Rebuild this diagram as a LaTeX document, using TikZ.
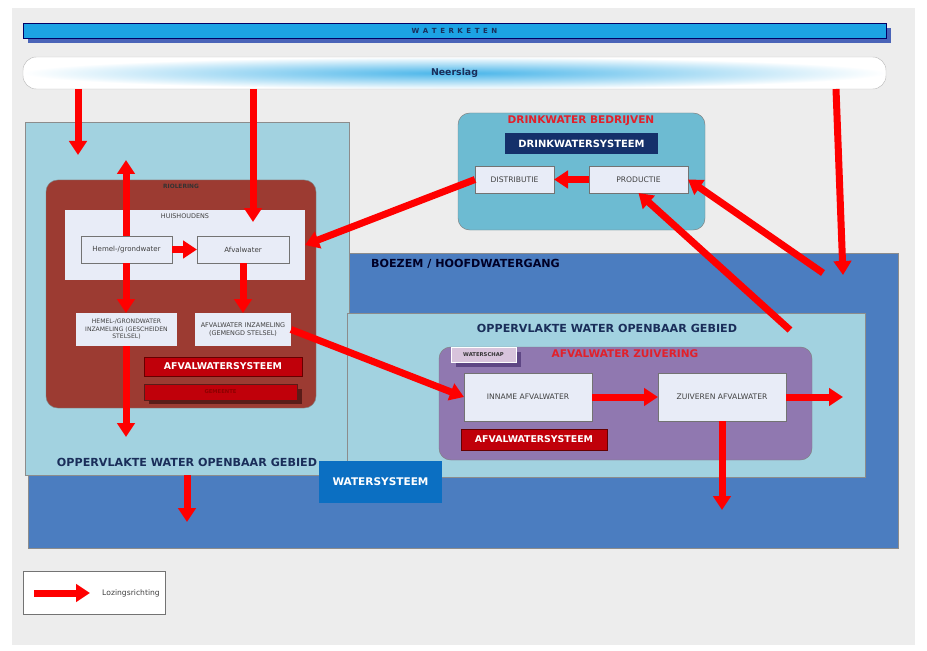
\documentclass[tikz,border=0pt]{standalone}
\usepackage{fontspec}
\setmainfont{DejaVu Sans}
\usetikzlibrary{arrows.meta,positioning}

\definecolor{pagegray}{HTML}{EDEDED}
\definecolor{ketenblue}{HTML}{1CA3E4}
\definecolor{ketenshadow}{HTML}{4A64B8}
\definecolor{opplight}{HTML}{A2D2E0}
\definecolor{boezemblue}{HTML}{4B7DC0}
\definecolor{wsblue}{HTML}{0B6FC2}
\definecolor{zuivpurple}{HTML}{9078B0}
\definecolor{schaplight}{HTML}{D8C4DC}
\definecolor{schapdark}{HTML}{5E4684}
\definecolor{boxlight}{HTML}{E8ECF7}
\definecolor{sysred}{HTML}{C0000A}
\definecolor{drinkteal}{HTML}{6DBBD2}
\definecolor{drinknavy}{HTML}{14306A}
\definecolor{rioolbrown}{HTML}{9C3B32}
\definecolor{gemshadow}{HTML}{5A1C18}
\definecolor{titlered}{HTML}{E2202A}
\definecolor{navytext}{HTML}{1A2E5A}

\begin{document}
\begin{tikzpicture}[x=0.3mm, y=-0.3mm,
  every node/.style={outer sep=0pt, inner sep=1pt},
  area/.style={anchor=north west, draw=black!45, line width=0.4pt},
  box/.style={anchor=north west, fill=boxlight, draw=black!55, line width=0.4pt, align=center, font=\fontsize{6}{7}\selectfont, text=black!75},
  sysbox/.style={anchor=north west, fill=sysred, draw=red!40!black, line width=0.4pt, text=white, font=\bfseries\fontsize{8}{9}\selectfont},
  lbl/.style={font=\bfseries\fontsize{9.5}{11}\selectfont, text=navytext},
  flow/.style={draw=red, line width=2.1mm, -{Triangle[width=5.2mm,length=4.2mm]}}]
\useasboundingbox (0,0) rectangle (927,651);
\fill[white] (0,0) rectangle (927,651);
\fill[pagegray] (12,8) rectangle (915,645);

% waterketen en neerslag
\fill[ketenshadow] (28,28) rectangle (891,43);
\node[area, fill=ketenblue, draw=blue!40!black, minimum width=863*0.3mm, minimum height=15*0.3mm, text=navytext, font=\bfseries\fontsize{6}{7}\selectfont] (keten) at (23,23) {W\,\,\,A\,\,\,T\,\,\,E\,\,\,R\,\,\,K\,\,\,E\,\,\,T\,\,\,E\,\,\,N};
\node[area, draw=black!25, rounded corners=4mm, inner color=ketenblue!80, outer color=white, minimum width=863*0.3mm, minimum height=32*0.3mm, font=\bfseries\fontsize{8}{9}\selectfont, text=navytext] (neerslag) at (23,57) {Neerslag};

% watersysteem
\node[area, fill=boezemblue, minimum width=870*0.3mm, minimum height=295*0.3mm] (boezem) at (28,253) {};
\node[lbl, anchor=west, text=black!85!blue] (boezemtxt) at (370,264) {BOEZEM / HOOFDWATERGANG};
\node[area, fill=opplight, minimum width=324*0.3mm, minimum height=353*0.3mm] (oppL) at (25,122) {};
\node[lbl] (oppLtxt) at (187,462) {OPPERVLAKTE WATER OPENBAAR GEBIED};
\node[area, fill=opplight, minimum width=518*0.3mm, minimum height=164*0.3mm] (oppR) at (347,313) {};
\node[lbl] (oppRtxt) at (607,328) {OPPERVLAKTE WATER OPENBAAR GEBIED};
\node[area, fill=wsblue, draw=none, minimum width=123*0.3mm, minimum height=42*0.3mm, text=white, font=\bfseries\fontsize{9}{10}\selectfont] (watersys) at (319,461) {WATERSYSTEEM};

% afvalwater zuivering
\node[area, fill=zuivpurple, draw=black!50, rounded corners=3.5mm, minimum width=373*0.3mm, minimum height=113*0.3mm] (zuivering) at (439,347) {};
\node[font=\bfseries\fontsize{9}{10}\selectfont, text=titlered] (zuivtxt) at (625,354) {AFVALWATER ZUIVERING};
\fill[schapdark] (456,352) rectangle (521,367);
\node[area, fill=schaplight, draw=white, minimum width=65*0.3mm, minimum height=15*0.3mm, font=\bfseries\fontsize{4.5}{5}\selectfont, text=black!80] (waterschap) at (451,347) {WATERSCHAP};
\node[box, minimum width=128*0.3mm, minimum height=48*0.3mm, font=\fontsize{6.5}{7}\selectfont] (inname) at (464,373) {INNAME AFVALWATER};
\node[box, minimum width=128*0.3mm, minimum height=48*0.3mm, font=\fontsize{6.5}{7}\selectfont] (zuiveren) at (658,373) {ZUIVEREN AFVALWATER};
\node[sysbox, minimum width=146*0.3mm, minimum height=21*0.3mm] (afvsysB) at (461,429) {AFVALWATERSYSTEEM};

% drinkwater
\node[area, fill=drinkteal, draw=black!50, rounded corners=3.5mm, minimum width=247*0.3mm, minimum height=117*0.3mm] (drinkwater) at (458,113) {};
\node[font=\bfseries\fontsize{9}{10}\selectfont, text=titlered] (drinktxt) at (581,121) {DRINKWATER BEDRIJVEN};
\node[area, fill=drinknavy, draw=none, minimum width=153*0.3mm, minimum height=21*0.3mm, text=white, font=\bfseries\fontsize{8.5}{9}\selectfont] (drinksys) at (505,133) {DRINKWATERSYSTEEM};
\node[box, minimum width=79*0.3mm, minimum height=27*0.3mm, font=\fontsize{6.5}{7}\selectfont] (distributie) at (475,166) {DISTRIBUTIE};
\node[box, minimum width=99*0.3mm, minimum height=27*0.3mm, font=\fontsize{6.5}{7}\selectfont] (productie) at (589,166) {PRODUCTIE};

% riolering
\node[area, fill=rioolbrown, draw=black!50, rounded corners=3.5mm, minimum width=270*0.3mm, minimum height=228*0.3mm] (riolering) at (46,180) {};
\node[font=\bfseries\fontsize{5}{5}\selectfont, text=black!80] (rioltxt) at (181,186) {RIOLERING};
\node[box, draw=none, minimum width=240*0.3mm, minimum height=70*0.3mm] (huishoudens) at (65,210) {};
\node[font=\fontsize{5.5}{6}\selectfont, text=black!75] (huistxt) at (185,216) {HUISHOUDENS};
\node[box, minimum width=91*0.3mm, minimum height=27*0.3mm] (hemel) at (81,236) {Hemel-/grondwater};
\node[box, minimum width=92*0.3mm, minimum height=27*0.3mm] (afvalwater) at (197,236) {Afvalwater};
\node[box, draw=none, minimum width=101*0.3mm, minimum height=33*0.3mm, font=\fontsize{5.2}{6.3}\selectfont] (hemelinz) at (76,313) {HEMEL-/GRONDWATER\\INZAMELING (GESCHEIDEN\\STELSEL)};
\node[box, draw=none, minimum width=96*0.3mm, minimum height=33*0.3mm, font=\fontsize{5.5}{6.8}\selectfont] (afvinz) at (195,313) {AFVALWATER INZAMELING\\(GEMENGD STELSEL)};
\node[sysbox, minimum width=158*0.3mm, minimum height=19*0.3mm] (afvsysA) at (144,357) {AFVALWATERSYSTEEM};
\fill[gemshadow] (149,389) rectangle (302,404);
\node[sysbox, draw=gemshadow, minimum width=153*0.3mm, minimum height=16*0.3mm, text=red!55!black, font=\bfseries\fontsize{4.5}{5}\selectfont] (gemeente) at (144,384) {GEMEENTE};

% legenda
\node[area, fill=white, draw=black!55, minimum width=142*0.3mm, minimum height=43*0.3mm] (legenda) at (23,571) {};
\node[font=\fontsize{6.5}{7}\selectfont, text=black!75] (loz) at (131,593) {Lozingsrichting};

% lozingen
\coordinate (r1) at (78,155);
\coordinate (r2) at (253,222);
\coordinate (r3) at (843,275);
\coordinate (r4) at (126,160);
\coordinate (r5) at (126,437);
\coordinate (r6) at (187,522);
\coordinate (r7) at (823,273);
\coordinate (r8) at (790,330);
\coordinate (r9) at (843,397);
\coordinate (r10) at (722,510);
\coordinate (l1) at (34,593);
\coordinate (l2) at (90,593);
\draw[flow] (neerslag.south -| r1) -- (r1);
\draw[flow] (neerslag.south -| r2) -- (r2);
\draw[flow] (neerslag.south -| 836,0) -- (r3);
\draw[flow] (hemel.north -| r4) -- (r4);
\draw[flow] (hemel.south -| r4) -- (hemelinz.north -| r4);
\draw[flow] (hemel.east) -- (afvalwater.west);
\draw[flow] (afvalwater.south) -- (afvinz.north);
\draw[flow] (hemelinz.south -| r5) -- (r5);
\draw[flow] (oppL.south -| r6) -- (r6);
\draw[flow] (afvinz.east) -- (inname.west);
\draw[flow] (distributie.west) -- (huishoudens.east);
\draw[flow] (productie.west) -- (distributie.east);
\draw[flow] (r7) -- (productie.east);
\draw[flow] (r8) -- (productie.south);
\draw[flow] (inname.east) -- (zuiveren.west);
\draw[flow] (zuiveren.east) -- (r9);
\draw[flow] (zuiveren.south) -- (r10);
\draw[flow] (l1) -- (l2);
\end{tikzpicture}
\end{document}
